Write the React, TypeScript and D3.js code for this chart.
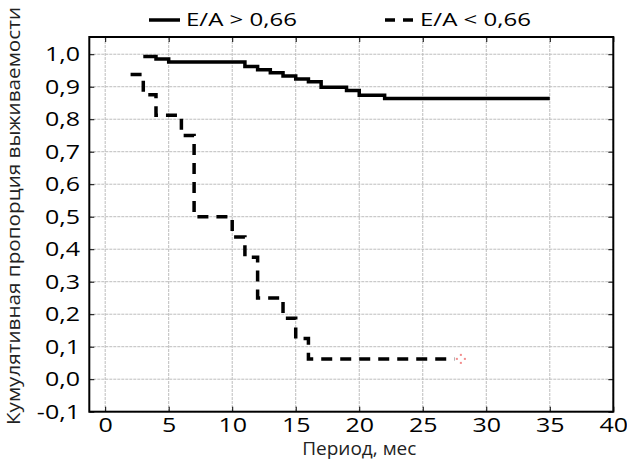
import React, { useRef, useEffect } from 'react';
import * as d3 from 'd3';

// survival curves (time in months, cumulative proportion)
const highTime = [3, 4, 5, 11, 12, 13, 14, 15, 16, 17, 19, 20, 22, 35];
const highSurv = [0.993, 0.985, 0.976, 0.962, 0.952, 0.943, 0.933, 0.924, 0.915, 0.898, 0.888, 0.874, 0.864, 0.864];
const lowTime = [2, 3, 4, 6, 7, 10, 11, 12, 14, 15, 16, 27.5];
const lowSurv = [0.9375, 0.875, 0.8125, 0.75, 0.5, 0.4375, 0.375, 0.25, 0.1875, 0.125, 0.0625, 0.0625];
const censorTime = [28];
const censorSurv = [0.0625];

const xTicks = [0, 5, 10, 15, 20, 25, 30, 35, 40];
const yTicks = [-0.1, 0, 0.1, 0.2, 0.3, 0.4, 0.5, 0.6, 0.7, 0.8, 0.9, 1.0];
const seriesNames = ['E/A > 0,66', 'E/A < 0,66'];
const xTitle = 'Период, мес';
const yTitle = 'Кумулятивная пропорция выживаемости';

const width = 627;
const height = 460;
const font = "'Open Sans', sans-serif";

function App() {
  const ref = useRef<SVGSVGElement>(null);

  useEffect(() => {
    const svg = d3.select(ref.current);
    svg.selectAll('*').remove();

    const left = 89.3, right = 613.3, top = 37, bottom = 411.7;
    const x = d3.scaleLinear().domain([-1.25, 40]).range([left, right]);
    const y = d3.scaleLinear().domain([-0.1, 1.053]).range([bottom, top]);
    const fmt = (v: number) => v.toFixed(1).replace('.', ',');

    svg.append('rect').attr('width', width).attr('height', height).attr('fill', '#fff');

    // grid
    const grid = svg.append('g').attr('stroke', '#bdbdbd').attr('stroke-width', 1).attr('stroke-dasharray', '3,1');
    grid.selectAll('line.gx').data(xTicks).enter().append('line')
      .attr('x1', d => x(d)).attr('x2', d => x(d)).attr('y1', top).attr('y2', bottom);
    grid.selectAll('line.gy').data(yTicks).enter().append('line')
      .attr('y1', d => y(d)).attr('y2', d => y(d)).attr('x1', left).attr('x2', right);

    // axes, ticks pointing inside
    const bottomAxis = svg.append('g').attr('transform', `translate(0,${bottom})`)
      .call(d3.axisBottom(x).tickValues(xTicks).tickSize(-5).tickSizeOuter(0).tickPadding(6).tickFormat(d => String(d)));
    const leftAxis = svg.append('g').attr('transform', `translate(${left},0)`)
      .call(d3.axisLeft(y).tickValues(yTicks).tickSize(-5).tickSizeOuter(0).tickPadding(7.5).tickFormat(d => fmt(+d)));
    svg.append('g').attr('transform', `translate(0,${top})`)
      .call(d3.axisTop(x).tickValues(xTicks).tickSize(-5).tickSizeOuter(0).tickFormat(() => ''));
    svg.append('g').attr('transform', `translate(${right},0)`)
      .call(d3.axisRight(y).tickValues(yTicks).tickSize(-5).tickSizeOuter(0).tickFormat(() => ''));

    svg.selectAll('.domain').remove();
    svg.selectAll('.tick line').attr('stroke', '#000');
    [bottomAxis, leftAxis].forEach(a => a.selectAll('text')
      .attr('font-family', font).attr('font-size', 20).attr('fill', '#000')
      .attr('transform', 'scale(1.25,1)'));

    svg.append('rect')
      .attr('x', left).attr('y', top).attr('width', right - left).attr('height', bottom - top)
      .attr('fill', 'none').attr('stroke', '#000').attr('stroke-width', 2);

    // curves
    const line = d3.line<[number, number]>()
      .x(d => x(d[0])).y(d => y(d[1]))
      .curve(d3.curveStepAfter);

    svg.append('path')
      .attr('d', line(highTime.map((t, i) => [t, highSurv[i]])))
      .attr('fill', 'none').attr('stroke', '#000').attr('stroke-width', 3.5);

    svg.append('path')
      .attr('d', line(lowTime.map((t, i) => [t, lowSurv[i]])))
      .attr('fill', 'none').attr('stroke', '#000').attr('stroke-width', 3.5)
      .attr('stroke-dasharray', '11,8');

    // censored mark
    censorTime.forEach((t, i) => {
      const cx = x(t), cy = y(censorSurv[i]);
      [[0, -4], [-4, 0], [4, 0], [0, 4]].forEach(([dx, dy]) => {
        svg.append('rect')
          .attr('x', cx + dx - 1).attr('y', cy + dy - 1).attr('width', 2).attr('height', 2)
          .attr('fill', '#f28c8c');
      });
    });

    // legend
    svg.append('line').attr('x1', 149).attr('x2', 180).attr('y1', 20).attr('y2', 20)
      .attr('stroke', '#000').attr('stroke-width', 3.5);
    svg.append('line').attr('x1', 385).attr('x2', 417).attr('y1', 20).attr('y2', 20)
      .attr('stroke', '#000').attr('stroke-width', 3.5).attr('stroke-dasharray', '10,8');
    svg.selectAll('text.legend').data(seriesNames).enter().append('text')
      .attr('class', 'legend')
      .attr('transform', (d, i) => `translate(${i === 0 ? 186 : 420},26) scale(1.3,1)`)
      .attr('font-family', font).attr('font-size', 18.5).attr('fill', '#000')
      .text(d => d);

    // titles
    svg.append('text')
      .attr('x', (left + right) / 2 + 8).attr('y', 455)
      .attr('text-anchor', 'middle')
      .attr('font-family', font).attr('font-size', 19).attr('fill', '#222')
      .text(xTitle);

    svg.append('text')
      .attr('transform', `translate(20,216) rotate(-90) scale(1.15,1)`)
      .attr('text-anchor', 'middle')
      .attr('font-family', font).attr('font-size', 18).attr('fill', '#222')
      .text(yTitle);
  }, []);

  return (
    <svg ref={ref} width={width} height={height}
      style={{ position: 'absolute', left: 0, top: 0 }}></svg>
  );
}

export default App;
